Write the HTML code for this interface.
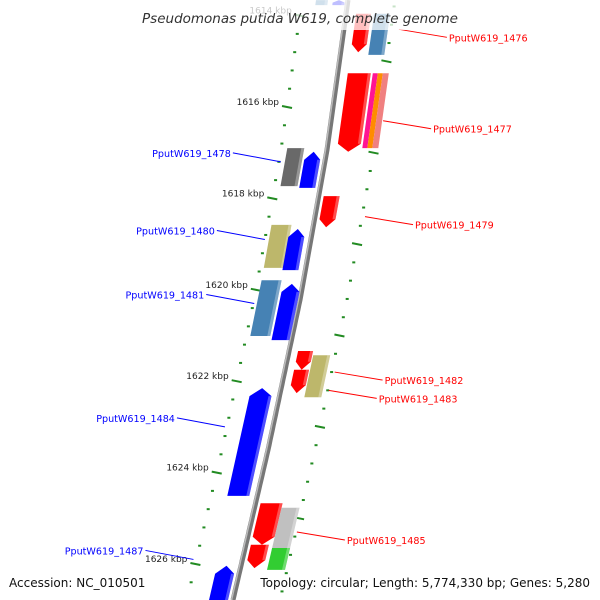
<!DOCTYPE html>
<html><head><meta charset="utf-8"><style>
html,body{margin:0;background:#fff;overflow:hidden;width:600px;height:600px}
svg{display:block;font-family:"DejaVu Sans","Liberation Sans",sans-serif;overflow:hidden}
</style></head><body>
<svg id="c" width="600" height="600" viewBox="0 0 600 600"></svg>
<script>
// gene data (kbp positions)
const geneStart=[1613.66,1613.66,1613.96,1613.96,1615.26,1615.26,1615.26,1615.26,1616.90,1616.98,1617.95,1618.58,1618.67,1619.79,1619.87,1621.34,1621.43,1621.75,1622.15,1624.67,1624.77,1625.58,1625.65,1626.04];
const geneEnd=  [1613.77,1613.77,1614.80,1614.86,1616.98,1616.90,1616.90,1616.90,1617.73,1617.77,1618.63,1619.52,1619.57,1621.01,1621.10,1621.75,1622.35,1622.26,1624.51,1625.58,1625.69,1626.09,1626.13,1626.79];
const geneOff1=[-32,-15,10,28,10,35,40,45,-40,-21,5,-42,-23,-42,-20,9,25,9,-30,5,27,5,27,-24];
const geneOff2=[-20,-3,25,44,33,40,45,51,-23,-5,21,-22,-7,-22,-2,24,42,24,-8,27,45,23,45,-5];
const geneDir=[0,1,-1,0,-1,0,0,0,0,1,-1,0,1,0,1,-1,0,-1,1,-1,0,-1,0,1];
const geneColor=["#4682b4","#0000ff","#ff0000","#4682b4","#ff0000","#ff1493","#ff8c00","#f08080","#696969","#0000ff","#ff0000","#bdb76b","#0000ff","#4682b4","#0000ff","#ff0000","#bdb76b","#ff0000","#0000ff","#ff0000","#c0c0c0","#ff0000","#32cd32","#0000ff"];
// labels
const labelText=["PputW619_1476","PputW619_1477","PputW619_1478","PputW619_1479","PputW619_1480","PputW619_1481","PputW619_1482","PputW619_1483","PputW619_1484","PputW619_1485","PputW619_1487"];
const labelKbp=[1614.3,1616.3,1617.2,1618.4,1618.9,1620.3,1621.8,1622.2,1623.0,1625.3,1625.9];
const labelSide=[1,1,-1,1,-1,-1,1,1,-1,1,-1];
const labelStartOff=[55,52,-44,50,-46,-45,50,48,-48,48,-49];
// axis ticks
const majorLeft=[1616,1618,1620,1622,1624,1626];
const majorRight=[1615,1617,1619,1621,1623,1625];

const S=document.getElementById('c'),NS='http://www.w3.org/2000/svg';
function y(k){return 107+(k-1616)*45.7;}
// backbone curve
const bbY=[0,150,300,450,600],bbX=[348,327,300,268,233];
function bx(v){if(v<=0)return bbX[0]+(bbX[0]-bbX[1])*(-v)/150;for(let i=1;i<bbY.length;i++){if(v<=bbY[i]){const t=(v-bbY[i-1])/(bbY[i]-bbY[i-1]);return bbX[i-1]+t*(bbX[i]-bbX[i-1]);}}return bbX[bbX.length-1];}
function el(t,a,p){const e=document.createElementNS(NS,t);for(const k in a)e.setAttribute(k,a[k]);(p||S).appendChild(e);return e;}
// backbone
let bp='';for(let v=0;v<=600;v+=5)bp+=(v===0?'M':'L')+(bx(v)).toFixed(1)+' '+v+' ';
let e=el('path',{d:bp,stroke:'#777',"stroke-width":5,fill:'none'});

e=el('path',{d:bp,stroke:'#bbb',"stroke-width":1.5,fill:'none',transform:'translate(-1.5,0)'});

// ticks
function tickSide(majors,off,label){
  majors.forEach(m=>{
    for(let j=-4;j<=0;j++){const k=m+j*0.4;const yy=y(k);
      if(yy<0||yy>600)continue;
      if(j===0){const ln=el('line',{x1:bx(yy)+off-5,y1:yy-1,x2:bx(yy)+off+5,y2:yy+1,stroke:'#228b22',"stroke-width":2});
        
        if(label){const t=el('text',{x:bx(yy)+off-8,y:yy-2,"font-size":9,fill:'#222',"text-anchor":'end'});t.textContent=m+' kbp';
          }
      }else{const d=el('rect',{x:bx(yy)+off-1.5,y:yy-1,width:3,height:2,fill:'#228b22'});
        }
    }
  });
}
tickSide([1614].concat(majorLeft).concat([1628]),-46,true);
tickSide([1613].concat(majorRight).concat([1627]),47,false);
// genes
for(let i=0;i<geneStart.length;i++){
  const y1=y(geneStart[i]),y2=y(geneEnd[i]),o1=geneOff1[i],o2=geneOff2[i],h=Math.min(8,(y2-y1)/2);
  const L=v=>bx(v)+o1,R=v=>bx(v)+o2,C=v=>bx(v)+(o1+o2)/2;let pts;
  if(geneDir[i]===-1)pts=[[L(y1),y1],[R(y1),y1],[R(y2-h),y2-h],[C(y2),y2],[L(y2-h),y2-h]];
  else if(geneDir[i]===1)pts=[[C(y1),y1],[R(y1+h),y1+h],[R(y2),y2],[L(y2),y2],[L(y1+h),y1+h]];
  else pts=[[L(y1),y1],[R(y1),y1],[R(y2),y2],[L(y2),y2]];
  const g=el('polygon',{points:pts.map(p=>p[0].toFixed(1)+','+p[1].toFixed(1)).join(' '),fill:geneColor[i]});
  
  const w=o2-o1;if(w>8){const a=y1+(geneDir[i]===1?h:0),b=y2-(geneDir[i]===-1?h:0);
    const sh=el('polygon',{points:[[R(a)-3,a],[R(a),a],[R(b),b],[R(b)-3,b]].map(p=>p[0].toFixed(1)+','+p[1].toFixed(1)).join(' '),fill:'#fff',opacity:0.3});
    }
}
// labels
for(let i=0;i<labelText.length;i++){
  const yy=y(labelKbp[i]),x1=bx(yy)+labelStartOff[i],s=labelSide[i],x2=x1+s*48,y2=yy+(s>0?8:-9);
  const col=s>0?'#ff0000':'#0000ff';
  const ln=el('line',{x1:x1,y1:yy,x2:x2,y2:y2,stroke:col,"stroke-width":1});
  
  const t=el('text',{x:x2+s*2,y:y2+4,"font-size":9.6,fill:col,"text-anchor":s>0?'start':'end'});t.textContent=labelText[i];
  
}
// title band
e=el('rect',{x:0,y:0,width:600,height:30,fill:'#fff',opacity:0.75});

e=el('text',{x:300,y:23,"font-size":13.5,"font-style":'italic',fill:'#333',"text-anchor":'middle'});e.textContent='Pseudomonas putida W619, complete genome';

e=el('text',{x:9,y:587,"font-size":12,fill:'#111'});e.textContent='Accession: NC_010501';

e=el('text',{x:590,y:587,"font-size":12,fill:'#111',"text-anchor":'end'});e.textContent='Topology: circular; Length: 5,774,330 bp; Genes: 5,280';

</script>
</body></html>
